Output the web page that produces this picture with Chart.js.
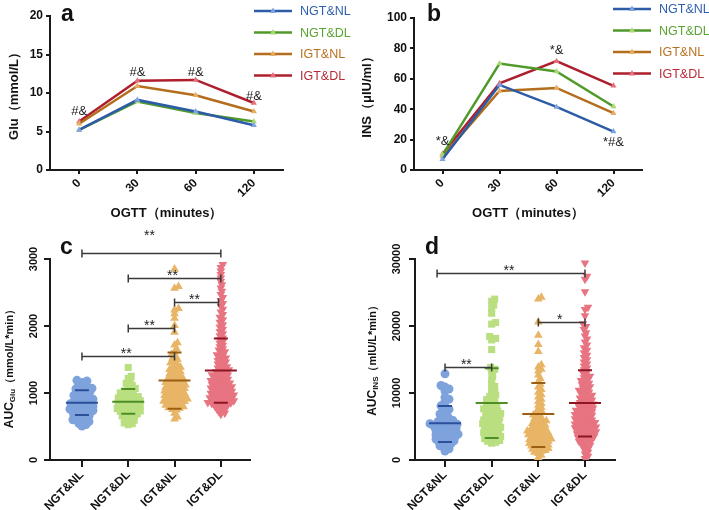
<!DOCTYPE html>
<html>
<head>
<meta charset="utf-8">
<script src="https://cdn.jsdelivr.net/npm/chart.js@4.4.1/dist/chart.umd.min.js"></script>
<style>
  body { margin: 0; background: #fff; }
  #wrap { position: relative; width: 709px; height: 510px; overflow: hidden; }
  canvas { position: absolute; }
</style>
</head>
<body>
<div id="wrap">
  <canvas id="chartA" width="355" height="225" style="left:0;top:0"></canvas>
  <canvas id="chartB" width="354" height="225" style="left:355px;top:0"></canvas>
  <canvas id="chartC" width="355" height="285" style="left:0;top:225px"></canvas>
  <canvas id="chartD" width="354" height="285" style="left:355px;top:225px"></canvas>
</div>
<script>
// OGTT time points and groups
const timeLabels = ['0', '30', '60', '120'];
const groupNames = ['NGT&NL', 'NGT&DL', 'IGT&NL', 'IGT&DL'];

// a: glucose during OGTT (mmol/L)
const gluNgtNl = [5.2, 9.1, 7.6, 5.8];
const gluNgtDl = [5.2, 8.9, 7.4, 6.3];
const gluIgtNl = [6.0, 10.9, 9.7, 7.6];
const gluIgtDl = [6.3, 11.6, 11.7, 8.7];
const gluTicks = [0, 5, 10, 15, 20];
const gluNotes = ['#&', '#&', '#&', '#&'];
const gluNoteAt = [7.6, 12.7, 12.7, 9.6];

// b: insulin during OGTT (uIU/ml)
const insNgtNl = [7, 56, 41.5, 25.3];
const insNgtDl = [10, 70, 64.8, 41.8];
const insIgtNl = [8.8, 52, 54, 37.4];
const insIgtDl = [10.5, 57, 71.6, 55.4];
const insTicks = [0, 20, 40, 60, 80, 100];
const insNotes = ['*&', '', '*&', '*#&'];
const insNoteAt = [18.5, 0, 78.5, 18];

// c: AUC glucose, one value per subject
const aucGluNgtNl = [508, 529, 544, 566, 573, 592, 601, 615, 624, 645, 652, 664, 673, 690, 697, 706, 719, 725, 738, 745,
  759, 762, 779, 781, 798, 804, 812, 823, 836, 845, 856, 867, 871, 888, 899, 907, 921, 929, 944, 961,
  965, 984, 992, 1011, 1020, 1038, 1046, 1062, 1070, 1097, 1109, 1138, 1155, 1178, 1189];
const aucGluNgtDl = [527, 543, 553, 581, 594, 616, 628, 651, 659, 682, 688, 705, 711, 726, 732, 746, 750, 764, 768, 781,
  783, 797, 801, 814, 818, 831, 834, 848, 851, 865, 869, 882, 886, 899, 904, 919, 925, 939, 946, 963,
  971, 991, 1000, 1022, 1031, 1055, 1068, 1096, 1115, 1145, 1172, 1218, 1249, 1381];
const aucGluIgtNl = [611, 641, 699, 747, 755, 774, 780, 795, 803, 816, 824, 837, 840, 854, 861, 875, 878, 892, 895, 908,
  911, 925, 929, 943, 946, 960, 962, 976, 980, 994, 997, 1011, 1015, 1029, 1031, 1046, 1049, 1063, 1066, 1081,
  1084, 1099, 1101, 1116, 1119, 1134, 1137, 1153, 1158, 1175, 1180, 1198, 1204, 1222, 1229, 1249, 1256, 1276, 1285, 1306,
  1316, 1339, 1349, 1373, 1386, 1410, 1425, 1452, 1469, 1500, 1518, 1552, 1575, 1615, 1661, 1718, 1750, 1905, 2006, 2115,
  2184, 2237, 2263, 2565, 2588, 2851];
const aucGluIgtDl = [683, 702, 724, 742, 766, 779, 798, 806, 821, 825, 839, 842, 855, 858, 870, 872, 884, 886, 898, 900,
  912, 914, 926, 928, 940, 941, 954, 955, 968, 969, 982, 983, 996, 997, 1011, 1013, 1027, 1029, 1043, 1045,
  1059, 1061, 1075, 1077, 1092, 1095, 1110, 1113, 1128, 1131, 1146, 1149, 1164, 1167, 1183, 1187, 1203, 1207, 1223, 1228,
  1245, 1250, 1267, 1272, 1290, 1296, 1314, 1320, 1339, 1346, 1365, 1373, 1393, 1401, 1422, 1431, 1453, 1463, 1486, 1497,
  1521, 1533, 1557, 1572, 1598, 1615, 1643, 1661, 1690, 1711, 1742, 1765, 1796, 1821, 1856, 1884, 1918, 1951, 1985, 2020,
  2056, 2093, 2131, 2170, 2210, 2251, 2293, 2336, 2380, 2425, 2471, 2518, 2566, 2615, 2665, 2716, 2768, 2821, 2874, 2917];
const aucGluTicks = [0, 1000, 2000, 3000];
const aucGluMean = [855, 870, 1185, 1335];
const aucGluSdHigh = [1040, 1060, 1605, 1815];
const aucGluSdLow = [670, 690, 765, 855];
// brackets: from group, to group, line height, label height, label
const gluBracketFrom = [0, 1, 2, 1, 0];
const gluBracketTo = [3, 3, 2.95, 2, 2];
const gluBracketAt = [3090, 2720, 2360, 1975, 1545];
const gluBracketLabelAt = [3400, 2810, 2450, 2065, 1635];
const gluBracketText = ['**', '**', '**', '**', '**'];

// d: AUC insulin, one value per subject
const aucInsNgtNl = [1340, 1680, 1920, 2110, 2330, 2470, 2580, 2720, 2880, 2960, 3120, 3270, 3340, 3460, 3570, 3690, 3780, 3860, 3990, 4120,
  4180, 4310, 4420, 4530, 4690, 4760, 4880, 4950, 5080, 5170, 5230, 5340, 5420, 5510, 5630, 5720, 5880, 6020, 6190, 6420,
  6610, 6870, 7240, 7580, 7910, 8080, 8720, 9080, 9350, 10280, 10590, 10880, 11120, 12860];
const aucInsNgtDl = [2510, 2640, 2790, 2910, 3040, 3180, 3290, 3370, 3520, 3610, 3690, 3840, 3920, 4070, 4150, 4260, 4380, 4470, 4590, 4680,
  4790, 4880, 5010, 5120, 5190, 5330, 5420, 5510, 5640, 5760, 5850, 5970, 6080, 6190, 6310, 6420, 6560, 6680, 6790, 6930,
  7060, 7210, 7340, 7480, 7630, 7790, 7920, 8110, 8260, 8440, 8620, 8810, 9020, 9240, 9480, 9710, 9960, 10280, 10620, 10980,
  11380, 11960, 12480, 13120, 13540, 13820, 16480, 17920, 18150, 18420, 20280, 20510, 21900, 22640, 23120, 23680, 24010];
const aucInsIgtNl = [380, 720, 980, 1160, 1290, 1420, 1530, 1610, 1730, 1820, 1890, 1990, 2080, 2160, 2240, 2330, 2410, 2480, 2560, 2640,
  2720, 2790, 2880, 2950, 3030, 3120, 3190, 3280, 3350, 3440, 3520, 3610, 3690, 3780, 3870, 3950, 4040, 4140, 4230, 4320,
  4420, 4530, 4620, 4730, 4840, 4960, 5080, 5190, 5320, 5440, 5580, 5710, 5860, 6010, 6170, 6330, 6520, 6710, 6920, 7140,
  7380, 7610, 7890, 8160, 8440, 8750, 9060, 9410, 9780, 10120, 10510, 10880, 11290, 11720, 12180, 12690, 13280, 13560, 13890, 14210,
  16180, 17240, 18620, 20590, 24020, 24290];
const aucInsIgtDl = [230, 560, 880, 1180, 1470, 1720, 1940, 2150, 2330, 2490, 2640, 2790, 2920, 3050, 3170, 3290, 3400, 3510, 3620, 3720,
  3830, 3930, 4030, 4130, 4230, 4330, 4430, 4520, 4620, 4720, 4810, 4910, 5010, 5100, 5200, 5290, 5390, 5490, 5580, 5680,
  5780, 5870, 5970, 6070, 6170, 6270, 6370, 6470, 6570, 6670, 6780, 6880, 6990, 7090, 7200, 7310, 7420, 7530, 7640, 7750,
  7870, 7980, 8100, 8220, 8340, 8460, 8590, 8710, 8840, 8970, 9100, 9240, 9370, 9510, 9650, 9800, 9950, 10100, 10260, 10420,
  10580, 10750, 10920, 11100, 11280, 11470, 11660, 11860, 12070, 12280, 12500, 12730, 12970, 13220, 13480, 13750, 14030, 14320, 14630, 14950,
  15280, 15630, 15990, 16370, 16760, 17170, 17600, 18050, 18520, 19010, 19480, 19920, 20330, 21540, 22480, 22790, 25120, 26980, 27420, 29410];
const aucInsTicks = [0, 10000, 20000, 30000];
const aucInsMean = [5500, 8500, 6860, 8500];
const aucInsSdHigh = [8050, 13700, 11500, 13400];
const aucInsSdLow = [2700, 3300, 1950, 3500];
const insBracketFrom = [-0.17, 0, 2];
const insBracketTo = [3, 1, 3];
const insBracketAt = [27900, 13900, 20600];
const insBracketLabelAt = [28800, 14800, 21500];
const insBracketText = ['**', '**', '*'];

const FONT = '"Liberation Sans", Arial, sans-serif';
Chart.defaults.font.family = FONT;
Chart.defaults.color = '#111';

const lineColors = ['#2d5ca6', '#4f9a2b', '#b36d1c', '#ae1f2d'];
const markColors = ['#7ea3de', '#a9da72', '#e6ae62', '#e4707c'];
const legendColors = ['#2f5fae', '#5ba233', '#b8711f', '#b82a36'];
const dotColors = ['#7ea2dc', '#b9df80', '#e8b466', '#e77480'];
const meanColors = ['#2b4f9a', '#4d8f24', '#9c5f12', '#8e1522'];
const dotStyles = ['circle', 'rect', 'triangle', 'triangle'];
const dotRotation = [0, 0, 0, 180];
const dotRadius = [4.5, 5, 5, 5];
const AXIS = '#1a1a1a';

function drawLetter(ctx, text, x, y) {
  ctx.save();
  ctx.font = 'bold 23px ' + FONT;
  ctx.fillStyle = '#111';
  ctx.textBaseline = 'alphabetic';
  ctx.fillText(text, x, y);
  ctx.restore();
}

function drawTriangle(ctx, x, y, r, color) {
  ctx.beginPath();
  ctx.moveTo(x, y - r);
  ctx.lineTo(x + r * 0.9, y + r * 0.6);
  ctx.lineTo(x - r * 0.9, y + r * 0.6);
  ctx.closePath();
  ctx.fillStyle = color;
  ctx.fill();
}

// line charts (a, b)
function makeLineChart(id, series, ticks, yTitle, letter, notes, noteAt, box) {
  const decor = {
    id: 'decor' + id,
    afterDraw(chart) {
      const ctx = chart.ctx;
      const xs = chart.scales.x, ys = chart.scales.y;
      drawLetter(ctx, letter, box.letterX, box.letterY);
      // legend
      ctx.save();
      groupNames.forEach((g, i) => {
        const y = box.legendTop + i * 21.5;
        const x0 = chart.chartArea.right - 29;
        ctx.strokeStyle = lineColors[i];
        ctx.lineWidth = 2.5;
        ctx.beginPath();
        ctx.moveTo(x0, y);
        ctx.lineTo(x0 + 38, y);
        ctx.stroke();
        drawTriangle(ctx, x0 + 19, y, 3.5, markColors[i]);
        ctx.fillStyle = legendColors[i];
        ctx.font = '12.5px ' + FONT;
        ctx.textBaseline = 'middle';
        ctx.textAlign = 'left';
        ctx.fillText(g, x0 + 46, y + 1);
      });
      // significance notes
      ctx.font = '13px ' + FONT;
      ctx.fillStyle = '#222';
      ctx.textAlign = 'center';
      ctx.textBaseline = 'middle';
      notes.forEach((t, i) => {
        if (t) ctx.fillText(t, xs.getPixelForValue(i), ys.getPixelForValue(noteAt[i]));
      });
      ctx.restore();
    }
  };
  return new Chart(document.getElementById(id), {
    type: 'line',
    data: {
      labels: timeLabels,
      datasets: series.map((s, i) => ({
        label: groupNames[i],
        data: s,
        borderColor: lineColors[i],
        borderWidth: 2.5,
        pointStyle: 'triangle',
        pointRadius: 3.5,
        pointBackgroundColor: markColors[i],
        pointBorderWidth: 0,
        tension: 0
      }))
    },
    options: {
      responsive: false,
      animation: false,
      events: [],
      layout: { padding: { top: box.top, right: box.right, left: 0, bottom: 0 } },
      plugins: { legend: { display: false }, tooltip: { enabled: false } },
      scales: {
        x: {
          type: 'category',
          offset: true,
          grid: { drawOnChartArea: false, color: AXIS, lineWidth: 2, tickLength: 4 },
          border: { color: AXIS, width: 2 },
          ticks: { font: { weight: 'bold', size: 12 }, color: '#111', minRotation: 45, maxRotation: 45, padding: 2 },
          title: { display: true, text: 'OGTT（minutes）', color: '#111', font: { weight: 'bold', size: 13 }, padding: { top: 0, bottom: 4 } },
          afterFit: s => { s.height = 55; }
        },
        y: {
          min: ticks[0],
          max: ticks[ticks.length - 1],
          afterBuildTicks: s => { s.ticks = ticks.map(v => ({ value: v })); },
          grid: { drawOnChartArea: false, color: AXIS, lineWidth: 2, tickLength: 4 },
          border: { color: AXIS, width: 2 },
          ticks: { font: { weight: 'bold', size: 12 }, color: '#111', padding: 3 },
          title: { display: true, text: yTitle, color: '#111', font: { weight: 'bold', size: 13 }, padding: { top: box.yTitlePad, bottom: 0 } },
          afterFit: s => { s.width = box.yWidth; }
        }
      }
    },
    plugins: [decor]
  });
}

// simple beeswarm layout: spread close values sideways so markers do not pile up
function swarm(values, group, pxPerX, pxPerY, gap) {
  const order = values.map((v, i) => i).sort((a, b) => values[a] - values[b]);
  const placed = [];
  const pts = [];
  for (const i of order) {
    const py = values[i] * pxPerY;
    let k = 0, off = 0;
    for (;;) {
      off = (k % 2 ? 1 : -1) * Math.ceil(k / 2);
      const hit = placed.some(p => Math.abs(p[1] - py) < gap && Math.hypot(p[0] - off, p[1] - py) < gap);
      if (!hit) break;
      k++;
    }
    placed.push([off, py]);
    pts.push({ x: group + off / pxPerX, y: values[i] });
  }
  return pts;
}

function drawAucTitle(ctx, x, y, sub, unit) {
  ctx.save();
  ctx.translate(x, y);
  ctx.rotate(-Math.PI / 2);
  const f1 = 'bold 12px ' + FONT, f2 = 'bold 8px ' + FONT, f3 = 'bold 11px ' + FONT;
  ctx.font = f1; const w1 = ctx.measureText('AUC').width;
  ctx.font = f2; const w2 = ctx.measureText(sub).width;
  ctx.font = f3; const w3 = ctx.measureText(unit).width;
  let cx = -(w1 + w2 + w3) / 2;
  ctx.fillStyle = '#111';
  ctx.textAlign = 'left';
  ctx.textBaseline = 'alphabetic';
  ctx.font = f1; ctx.fillText('AUC', cx, 4); cx += w1;
  ctx.font = f2; ctx.fillText(sub, cx, 6); cx += w2;
  ctx.font = f3; ctx.fillText(unit, cx, 4);
  ctx.restore();
}

// dot plots (c, d)
function makeDotChart(id, groups, ticks, mean, sdHigh, sdLow, brackets, sub, unit, letter, box) {
  const pxPerX = box.plotW / (box.xMax - box.xMin);
  const pxPerY = box.plotH / ticks[ticks.length - 1];
  const decor = {
    id: 'decor' + id,
    afterDatasetsDraw(chart) {
      const ctx = chart.ctx;
      const xs = chart.scales.x, ys = chart.scales.y;
      ctx.save();
      ctx.lineWidth = 2;
      mean.forEach((m, i) => {
        const cx = xs.getPixelForValue(i);
        ctx.strokeStyle = meanColors[i];
        ctx.beginPath();
        ctx.moveTo(cx - 16, ys.getPixelForValue(m));
        ctx.lineTo(cx + 16, ys.getPixelForValue(m));
        [sdHigh[i], sdLow[i]].forEach(v => {
          ctx.moveTo(cx - 7, ys.getPixelForValue(v));
          ctx.lineTo(cx + 7, ys.getPixelForValue(v));
        });
        ctx.stroke();
      });
      ctx.restore();
    },
    afterDraw(chart) {
      const ctx = chart.ctx;
      const xs = chart.scales.x, ys = chart.scales.y;
      drawLetter(ctx, letter, box.letterX, box.letterY);
      ctx.save();
      // y tick labels, rotated
      ctx.font = 'bold 11px ' + FONT;
      ctx.fillStyle = '#111';
      ctx.textAlign = 'center';
      ctx.textBaseline = 'middle';
      ticks.forEach(v => {
        ctx.save();
        ctx.translate(chart.chartArea.left - box.tickOff, ys.getPixelForValue(v));
        ctx.rotate(-Math.PI / 2);
        ctx.fillText(String(v), 0, 0);
        ctx.restore();
      });
      // significance brackets
      ctx.strokeStyle = '#3a3a3a';
      ctx.lineWidth = 1.5;
      brackets.from.forEach((f, i) => {
        const x1 = xs.getPixelForValue(f), x2 = xs.getPixelForValue(brackets.to[i]);
        const y = Math.round(ys.getPixelForValue(brackets.at[i])) + 0.5;
        ctx.beginPath();
        ctx.moveTo(x1, y); ctx.lineTo(x2, y);
        ctx.moveTo(x1, y - 4); ctx.lineTo(x1, y + 4);
        ctx.moveTo(x2, y - 4); ctx.lineTo(x2, y + 4);
        ctx.stroke();
        ctx.font = '14px ' + FONT;
        ctx.fillStyle = '#222';
        ctx.textBaseline = 'alphabetic';
        ctx.fillText(brackets.text[i], (x1 + x2) / 2 - 2, ys.getPixelForValue(brackets.labelAt[i]) + 8);
      });
      ctx.restore();
      drawAucTitle(ctx, box.titleX, box.titleY, sub, unit);
    }
  };
  return new Chart(document.getElementById(id), {
    type: 'scatter',
    data: {
      datasets: groups.map((vals, i) => ({
        label: groupNames[i],
        data: swarm(vals, i, pxPerX, pxPerY, box.gaps[i]),
        pointStyle: dotStyles[i],
        pointRotation: dotRotation[i],
        pointRadius: dotRadius[i],
        pointBackgroundColor: dotColors[i],
        pointBorderWidth: 0
      }))
    },
    options: {
      responsive: false,
      animation: false,
      events: [],
      layout: { padding: { top: box.top, right: box.right, left: 0, bottom: 0 } },
      plugins: { legend: { display: false }, tooltip: { enabled: false } },
      scales: {
        x: {
          type: 'linear',
          min: box.xMin,
          max: box.xMax,
          afterBuildTicks: s => { s.ticks = groupNames.map((g, i) => ({ value: i })); },
          grid: { drawOnChartArea: false, color: AXIS, lineWidth: 2, tickLength: 7 },
          border: { color: AXIS, width: 2 },
          ticks: { font: { weight: 'bold', size: 12 }, color: '#111', minRotation: 45, maxRotation: 45, padding: 1,
            callback: v => groupNames[v] },
          afterFit: s => { s.height = 50; }
        },
        y: {
          min: 0,
          max: ticks[ticks.length - 1],
          afterBuildTicks: s => { s.ticks = ticks.map(v => ({ value: v })); },
          grid: { drawOnChartArea: false, color: AXIS, lineWidth: 2, tickLength: 6 },
          border: { color: AXIS, width: 2 },
          ticks: { display: false },
          afterFit: s => { s.width = box.yWidth; }
        }
      }
    },
    plugins: [decor]
  });
}

makeLineChart('chartA', [gluNgtNl, gluNgtDl, gluIgtNl, gluIgtDl], gluTicks, 'Glu（mmol/L）', 'a', gluNotes, gluNoteAt,
  { top: 16, right: 72, yWidth: 50, yTitlePad: 7, legendTop: 11, letterX: 61, letterY: 21 });
makeLineChart('chartB', [insNgtNl, insNgtDl, insIgtNl, insIgtDl], insTicks, 'INS（μIU/ml）', 'b', insNotes, insNoteAt,
  { top: 18, right: 67, yWidth: 59, yTitlePad: 5, legendTop: 9, letterX: 72, letterY: 21 });
makeDotChart('chartC', [aucGluNgtNl, aucGluNgtDl, aucGluIgtNl, aucGluIgtDl], aucGluTicks, aucGluMean, aucGluSdHigh, aucGluSdLow,
  { from: gluBracketFrom, to: gluBracketTo, at: gluBracketAt, labelAt: gluBracketLabelAt, text: gluBracketText }, 'Glu', '（mmol/L*min）', 'c',
  { top: 34, right: 105, yWidth: 50, xMin: -0.69, xMax: 3.63, plotW: 200, plotH: 201, gaps: [3.6, 3.6, 3.5, 3.3], tickOff: 16,
    titleX: 9, titleY: 141, letterX: 60, letterY: 29 });
makeDotChart('chartD', [aucInsNgtNl, aucInsNgtDl, aucInsIgtNl, aucInsIgtDl], aucInsTicks, aucInsMean, aucInsSdHigh, aucInsSdLow,
  { from: insBracketFrom, to: insBracketTo, at: insBracketAt, labelAt: insBracketLabelAt, text: insBracketText }, 'INS', '（mIU/L*min）', 'd',
  { top: 34, right: 94, yWidth: 60, xMin: -0.643, xMax: 3.643, plotW: 200, plotH: 201, gaps: [4, 3.6, 3.3, 3.4], tickOff: 18,
    titleX: 17, titleY: 133, letterX: 70, letterY: 29 });
</script>
</body>
</html>
